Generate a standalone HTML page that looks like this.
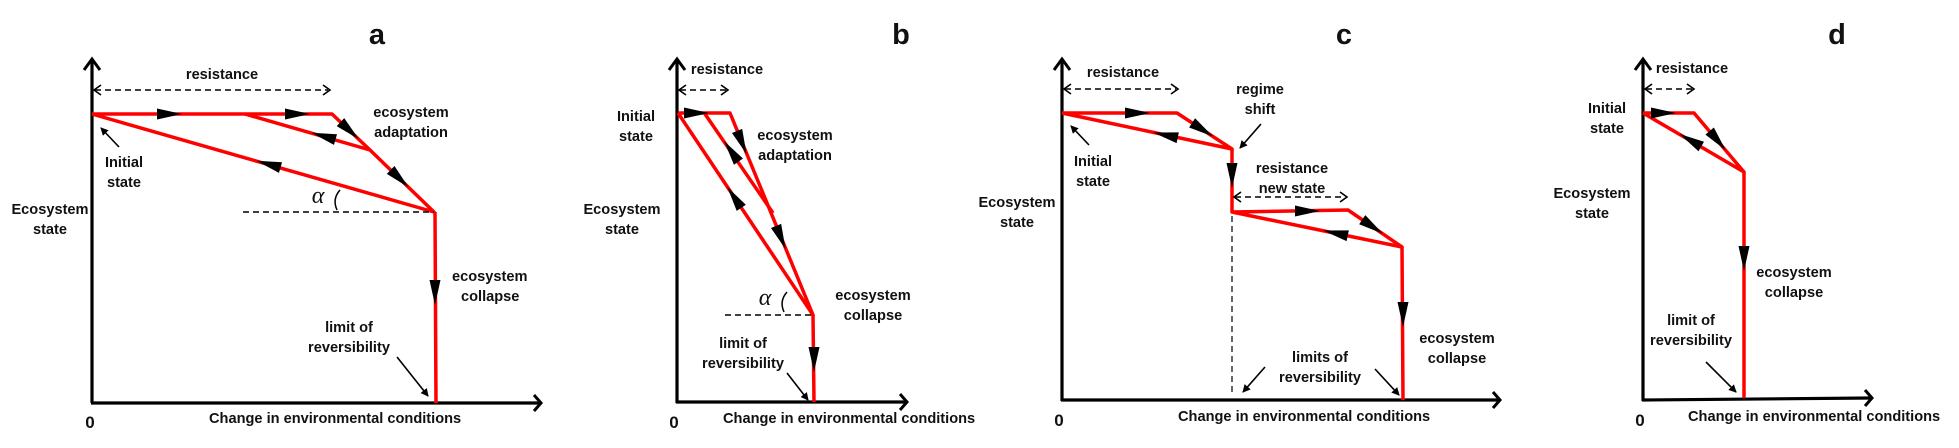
<!DOCTYPE html>
<html><head><meta charset="utf-8"><style>
html,body{margin:0;padding:0;background:#fff;}
svg{display:block;}
text{font-family:"Liberation Sans",sans-serif;font-weight:bold;font-size:14.6px;fill:#111;}
.big{font-size:29px;}
.alpha{font-family:"Liberation Serif",serif;font-style:italic;font-size:24px;font-weight:normal;}
.r{stroke:#f00;stroke-width:3.5;fill:none;stroke-linejoin:round;}
.ax{stroke:#000;stroke-width:3.2;fill:none;}
.d{stroke:#000;stroke-width:1.6;fill:none;stroke-dasharray:6,4;}
.ch{stroke:#000;stroke-width:1.6;fill:none;}
.tl{stroke:#000;stroke-width:1.6;}
</style></head><body>
<svg width="1959" height="448" viewBox="0 0 1959 448" xmlns="http://www.w3.org/2000/svg">
<defs>
<polygon id="ah" points="-13,-5.5 12,0 -13,5.5" fill="#000"/>
<marker id="sm" markerWidth="8" markerHeight="8" refX="7" refY="4" orient="auto" markerUnits="userSpaceOnUse"><path d="M0,0 L8,4 L0,8 z" fill="#000"/></marker>
<path id="axh" d="M-7,-8 L0,0 L-7,8" stroke="#000" stroke-width="3" fill="none"/>
</defs>

<!-- ===== Panel a ===== -->
<text class="big" x="377" y="44" text-anchor="middle">a</text>
<line class="ax" x1="92" y1="403" x2="92" y2="60"/>
<path d="M84,70 L92,59 L100,70" stroke="#000" stroke-width="3" fill="none"/>
<line class="ax" x1="91" y1="403" x2="540" y2="403"/>
<use href="#axh" transform="translate(541,403)"/>
<text x="222" y="79" text-anchor="middle">resistance</text>
<line class="d" x1="95" y1="90" x2="328" y2="90"/>
<path class="ch" d="M101,85 L94,90 L101,95 M323,85 L330,90 L323,95"/>
<polyline class="r" points="92,114 332,114 370,150 434,212 92,114"/>
<line class="r" x1="245" y1="114" x2="370" y2="150"/>
<line class="r" x1="435" y1="212" x2="436" y2="403"/>
<line class="d" x1="243" y1="212" x2="434" y2="212"/>
<use href="#ah" transform="translate(170,114)"/>
<use href="#ah" transform="translate(298,114)"/>
<use href="#ah" transform="translate(350,131) rotate(43)"/>
<use href="#ah" transform="translate(400,179) rotate(44)"/>
<use href="#ah" transform="translate(323,136) rotate(196)"/>
<use href="#ah" transform="translate(268,164) rotate(196)"/>
<use href="#ah" transform="translate(435,293) rotate(90)"/>
<text class="alpha" x="318" y="203" text-anchor="middle">α</text>
<path d="M340,190 Q332,199 337,210" stroke="#000" stroke-width="1.5" fill="none"/>
<text x="411" y="117" text-anchor="middle">ecosystem</text>
<text x="411" y="137" text-anchor="middle">adaptation</text>
<line class="tl" x1="119" y1="147" x2="101" y2="128" marker-end="url(#sm)"/>
<text x="124" y="167" text-anchor="middle">Initial</text>
<text x="124" y="187" text-anchor="middle">state</text>
<text x="50" y="214" text-anchor="middle">Ecosystem</text>
<text x="50" y="234" text-anchor="middle">state</text>
<text x="452" y="281">ecosystem</text>
<text x="461" y="301">collapse</text>
<text x="349" y="332" text-anchor="middle">limit of</text>
<text x="349" y="352" text-anchor="middle">reversibility</text>
<line class="tl" x1="397" y1="357" x2="428" y2="396" marker-end="url(#sm)"/>
<text x="90" y="428" text-anchor="middle" style="font-size:17px">0</text>
<text x="209" y="423">Change in environmental conditions</text>

<!-- ===== Panel b ===== -->
<text class="big" x="901" y="44" text-anchor="middle">b</text>
<line class="ax" x1="677" y1="403" x2="677" y2="60"/>
<path d="M669,70 L677,59 L685,70" stroke="#000" stroke-width="3" fill="none"/>
<line class="ax" x1="676" y1="402" x2="906" y2="402"/>
<use href="#axh" transform="translate(907,402)"/>
<text x="727" y="74" text-anchor="middle">resistance</text>
<line class="d" x1="680" y1="90" x2="726" y2="90"/>
<path class="ch" d="M686,85 L679,90 L686,95 M721,85 L728,90 L721,95"/>
<polyline class="r" points="678,113 730,113 813,315 678,113"/>
<line class="r" x1="705" y1="114" x2="773" y2="213"/>
<line class="r" x1="813" y1="315" x2="814" y2="402"/>
<line class="d" x1="725" y1="315" x2="813" y2="315"/>
<use href="#ah" transform="translate(697,113)"/>
<use href="#ah" transform="translate(742,143) rotate(67.7)"/>
<use href="#ah" transform="translate(781,238) rotate(67.7)"/>
<use href="#ah" transform="translate(731,151) rotate(235)"/>
<use href="#ah" transform="translate(734,197) rotate(236)"/>
<use href="#ah" transform="translate(814,360) rotate(90)"/>
<text class="alpha" x="765" y="305" text-anchor="middle">α</text>
<path d="M787,292 Q779,301 784,312" stroke="#000" stroke-width="1.5" fill="none"/>
<text x="636" y="121" text-anchor="middle">Initial</text>
<text x="636" y="141" text-anchor="middle">state</text>
<text x="795" y="140" text-anchor="middle">ecosystem</text>
<text x="795" y="160" text-anchor="middle">adaptation</text>
<text x="622" y="214" text-anchor="middle">Ecosystem</text>
<text x="622" y="234" text-anchor="middle">state</text>
<text x="873" y="300" text-anchor="middle">ecosystem</text>
<text x="873" y="320" text-anchor="middle">collapse</text>
<text x="743" y="348" text-anchor="middle">limit of</text>
<text x="743" y="368" text-anchor="middle">reversibility</text>
<line class="tl" x1="787" y1="373" x2="808" y2="400" marker-end="url(#sm)"/>
<text x="674" y="428" text-anchor="middle" style="font-size:17px">0</text>
<text x="723" y="423">Change in environmental conditions</text>

<!-- ===== Panel c ===== -->
<text class="big" x="1344" y="44" text-anchor="middle">c</text>
<line class="ax" x1="1062" y1="401" x2="1062" y2="60"/>
<path d="M1054,70 L1062,59 L1070,70" stroke="#000" stroke-width="3" fill="none"/>
<line class="ax" x1="1061" y1="400" x2="1499" y2="400"/>
<use href="#axh" transform="translate(1500,400)"/>
<text x="1123" y="77" text-anchor="middle">resistance</text>
<line class="d" x1="1065" y1="89" x2="1176" y2="89"/>
<path class="ch" d="M1071,84 L1064,89 L1071,94 M1171,84 L1178,89 L1171,94"/>
<polyline class="r" points="1062,113 1177,113 1232,149 1062,113"/>
<polyline class="r" points="1232,149 1232,212 1348,210 1402,247 1232,212"/>
<line class="r" x1="1402" y1="247" x2="1403" y2="400"/>
<line class="d" x1="1232" y1="216" x2="1232" y2="394" style="stroke-width:1.2"/>
<use href="#ah" transform="translate(1138,113)"/>
<use href="#ah" transform="translate(1203,130) rotate(33)"/>
<use href="#ah" transform="translate(1165,135) rotate(192)"/>
<use href="#ah" transform="translate(1232,176) rotate(90)"/>
<use href="#ah" transform="translate(1308,211)"/>
<use href="#ah" transform="translate(1373,227) rotate(34)"/>
<use href="#ah" transform="translate(1335,233) rotate(192)"/>
<use href="#ah" transform="translate(1403,315) rotate(90)"/>
<text x="1260" y="94" text-anchor="middle">regime</text>
<text x="1260" y="114" text-anchor="middle">shift</text>
<line class="tl" x1="1261" y1="124" x2="1240" y2="148" marker-end="url(#sm)"/>
<text x="1093" y="166" text-anchor="middle">Initial</text>
<text x="1093" y="186" text-anchor="middle">state</text>
<line class="tl" x1="1089" y1="145" x2="1071" y2="126" marker-end="url(#sm)"/>
<text x="1292" y="173" text-anchor="middle">resistance</text>
<text x="1292" y="193" text-anchor="middle">new state</text>
<line class="d" x1="1235" y1="197" x2="1345" y2="197"/>
<path class="ch" d="M1241,192 L1234,197 L1241,202 M1340,192 L1347,197 L1340,202"/>
<text x="1017" y="207" text-anchor="middle">Ecosystem</text>
<text x="1017" y="227" text-anchor="middle">state</text>
<text x="1457" y="343" text-anchor="middle">ecosystem</text>
<text x="1457" y="363" text-anchor="middle">collapse</text>
<text x="1320" y="362" text-anchor="middle">limits of</text>
<text x="1320" y="382" text-anchor="middle">reversibility</text>
<line class="tl" x1="1265" y1="367" x2="1243" y2="392" marker-end="url(#sm)"/>
<line class="tl" x1="1375" y1="369" x2="1399" y2="395" marker-end="url(#sm)"/>
<text x="1059" y="426" text-anchor="middle" style="font-size:17px">0</text>
<text x="1178" y="421">Change in environmental conditions</text>

<!-- ===== Panel d ===== -->
<text class="big" x="1837" y="44" text-anchor="middle">d</text>
<line class="ax" x1="1643" y1="401" x2="1643" y2="60"/>
<path d="M1635,70 L1643,59 L1651,70" stroke="#000" stroke-width="3" fill="none"/>
<line class="ax" x1="1642" y1="400" x2="1871" y2="398"/>
<use href="#axh" transform="translate(1872,398)"/>
<text x="1692" y="73" text-anchor="middle">resistance</text>
<line class="d" x1="1646" y1="89" x2="1692" y2="89"/>
<path class="ch" d="M1652,84 L1645,89 L1652,94 M1687,84 L1694,89 L1687,94"/>
<polyline class="r" points="1643,113 1694,113 1744,172 1643,113"/>
<line class="r" x1="1744" y1="172" x2="1744" y2="398"/>
<use href="#ah" transform="translate(1664,113)"/>
<use href="#ah" transform="translate(1718,141) rotate(50)"/>
<use href="#ah" transform="translate(1690,140) rotate(210)"/>
<use href="#ah" transform="translate(1744,259) rotate(90)"/>
<text x="1607" y="113" text-anchor="middle">Initial</text>
<text x="1607" y="133" text-anchor="middle">state</text>
<text x="1592" y="198" text-anchor="middle">Ecosystem</text>
<text x="1592" y="218" text-anchor="middle">state</text>
<text x="1794" y="277" text-anchor="middle">ecosystem</text>
<text x="1794" y="297" text-anchor="middle">collapse</text>
<text x="1691" y="325" text-anchor="middle">limit of</text>
<text x="1691" y="345" text-anchor="middle">reversibility</text>
<line class="tl" x1="1706" y1="362" x2="1736" y2="392" marker-end="url(#sm)"/>
<text x="1640" y="426" text-anchor="middle" style="font-size:17px">0</text>
<text x="1688" y="421">Change in environmental conditions</text>
</svg>
</body></html>
